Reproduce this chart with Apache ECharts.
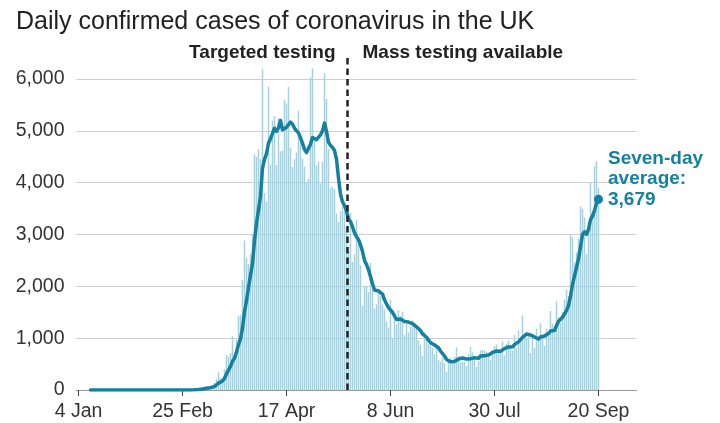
<!DOCTYPE html>
<html>
<head>
<meta charset="utf-8">
<title>Daily confirmed cases of coronavirus in the UK</title>
<script src="https://cdn.jsdelivr.net/npm/echarts@6/dist/echarts.min.js"></script>
<style>
  html, body { margin: 0; padding: 0; background: #fff; }
  #chart { width: 720px; height: 423px; }
</style>
</head>
<body>
<div id="chart"></div>
<script>
// Days are counted from 4 Jan 2020 (day 0).
const tickDays = [0, 52, 104, 156, 208, 260];
const tickLabels = ['4 Jan', '25 Feb', '17 Apr', '8 Jun', '30 Jul', '20 Sep'];
const yTickValues = [0, 1000, 2000, 3000, 4000, 5000, 6000];

// Daily confirmed cases, 1 Mar - 20 Sep
const casesStartDay = 57; // 1 Mar
const casesMar = [12, 5, 11, 34, 30, 48, 43, 67, 48, 52, 83, 134, 208, 342, 232, 171, 407, 676, 643, 714, 1035, 665, 967, 1427, 1452, 2129, 2885, 2546, 2433, 2619, 3009];
const casesApr = [4550, 4500, 4650, 4450, 6200, 3802, 3634, 5850, 4344, 5195, 5288, 4342, 5252, 4603, 4617, 5599, 5525, 5850, 4676, 4301, 4451, 4583, 5386, 4913, 4463, 4309, 3996, 4076, 6032, 6201];
const casesMay = [4806, 4339, 4406, 3985, 4406, 6111, 5614, 4649, 3896, 3923, 3877, 3403, 3242, 3446, 3560, 3451, 3142, 2684, 3412, 2472, 2615, 3287, 2959, 2409, 1625, 2004, 2013, 1887, 2450, 1936, 1570];
const casesJun = [1653, 1871, 1805, 1650, 1557, 1326, 1205, 1741, 1003, 1387, 1266, 1541, 1425, 1514, 1056, 1279, 1115, 1218, 1346, 1295, 1221, 958, 874, 653, 1118, 1006, 890, 901, 815, 689];
const casesJul = [829, 576, 544, 624, 516, 352, 581, 630, 512, 642, 820, 650, 530, 538, 538, 463, 687, 827, 726, 580, 445, 560, 769, 768, 767, 742, 685, 581, 763, 846, 880];
const casesAug = [743, 744, 938, 670, 892, 950, 871, 758, 1062, 816, 1148, 1009, 1441, 1062, 1012, 1040, 713, 1089, 812, 1182, 1033, 1288, 1041, 853, 1184, 1048, 1522, 1276, 1108, 1715, 1406];
const casesSep = [1295, 1508, 1735, 1940, 1813, 2988, 2948, 2460, 2659, 2919, 3539, 3497, 3330, 2621, 3105, 3991, 3395, 4322, 4422, 3899];

// Seven-day average, 10 Jan - 20 Sep
const averageStartDay = 6; // 10 Jan
const avgJanFeb = [0, 0, 0, 0, 0, 0, 0, 0, 0, 0, 0, 0, 0, 0, 0, 0, 0, 0, 0, 0, 0, 0,
  0, 0, 0, 0, 0, 0, 0, 0, 0, 1, 1, 1, 1, 1, 1, 1, 0, 0, 0, 0, 0, 0, 0, 1, 1, 1, 1, 2, 2];
const avgMar = [3, 4, 5, 10, 14, 20, 26, 34, 40, 46, 53, 68, 91, 133, 157, 175, 225, 310, 383, 455, 554, 616, 730, 875, 986, 1198, 1509, 1724, 1977, 2213, 2439];
const avgApr = [2880, 3220, 3470, 3740, 4280, 4450, 4560, 4760, 4850, 4950, 5050, 4990, 5060, 5200, 5020, 5040, 5070, 5120, 5170, 5130, 5050, 5000, 4960, 4870, 4760, 4640, 4580, 4560, 4740, 4870];
const avgMay = [4860, 4830, 4860, 4920, 5000, 5150, 4990, 4780, 4720, 4680, 4620, 4450, 4090, 3780, 3630, 3560, 3450, 3300, 3250, 3150, 3030, 2960, 2900, 2800, 2670, 2500, 2420, 2320, 2190, 2050, 1930];
const avgJun = [1930, 1910, 1880, 1850, 1740, 1660, 1590, 1590, 1500, 1430, 1360, 1350, 1370, 1400, 1320, 1350, 1310, 1310, 1280, 1260, 1220, 1205, 1147, 1081, 1066, 1018, 960, 914, 894, 867];
const avgJul = [893, 815, 749, 711, 656, 590, 575, 546, 537, 551, 579, 598, 624, 617, 604, 597, 604, 605, 616, 623, 609, 613, 656, 668, 659, 662, 677, 696, 725, 736, 752];
const avgAug = [749, 749, 785, 798, 816, 831, 830, 832, 877, 860, 928, 945, 1015, 1042, 1079, 1075, 1061, 1052, 1024, 987, 983, 1022, 1023, 1043, 1056, 1090, 1138, 1173, 1147, 1244, 1323];
const avgSep = [1339, 1404, 1435, 1530, 1630, 1812, 2032, 2199, 2363, 2532, 2761, 3001, 3050, 3004, 3096, 3286, 3354, 3466, 3598, 3679];

// Mass testing became available from 18 May (day 135)
const massTestingDay = 134.5;

const FONT = "'Liberation Sans', Arial, Helvetica, sans-serif";
const TEAL = '#15809f';
const BAR = '#a8d1dd';
const INK = '#222222';

const dailyCases = [].concat(casesMar, casesApr, casesMay, casesJun, casesJul, casesAug, casesSep);
const sevenDayAverage = [].concat(avgJanFeb, avgMar, avgApr, avgMay, avgJun, avgJul, avgAug, avgSep);

const barData = dailyCases.map((v, i) => [casesStartDay + i, v]);
const lineData = sevenDayAverage.map((v, i) => [averageStartDay + i, v]);
const lastPoint = lineData[lineData.length - 1];

const chart = echarts.init(document.getElementById('chart'), null, { renderer: 'canvas' });

chart.setOption({
  animation: false,
  backgroundColor: '#fff',
  textStyle: { fontFamily: FONT },
  title: {
    text: 'Daily confirmed cases of coronavirus in the UK',
    left: 16,
    top: 10,
    padding: 0,
    textStyle: { fontFamily: FONT, fontSize: 25, fontWeight: 'normal', color: INK }
  },
  // half-pixel offset keeps the thin daily bars crisp
  grid: { left: 76.5, right: 83.5, top: 79, bottom: 33, containLabel: false },
  xAxis: {
    type: 'value',
    min: -1,
    max: 279,
    splitLine: { show: false },
    axisLine: { show: true, lineStyle: { color: '#9a9a9a', width: 1 } },
    axisTick: {
      show: true,
      customValues: tickDays,
      length: 6,
      lineStyle: { color: '#444', width: 1 }
    },
    axisLabel: {
      customValues: tickDays,
      margin: 12,
      fontFamily: FONT,
      fontSize: 19.5,
      color: '#333',
      formatter: (v) => {
        const k = tickDays.indexOf(v);
        return k >= 0 ? tickLabels[k] : '';
      }
    }
  },
  yAxis: {
    type: 'value',
    min: 0,
    max: 6000,
    interval: 1000,
    axisLine: { show: false },
    axisTick: { show: false },
    splitLine: { show: true, lineStyle: { color: '#cfcfcf', width: 1 } },
    axisLabel: {
      margin: 12,
      fontFamily: FONT,
      fontSize: 19.5,
      color: '#333',
      formatter: (v) => yTickValues.indexOf(v) >= 0 ? v.toLocaleString('en-GB') : ''
    }
  },
  series: [
    {
      name: 'Daily cases',
      type: 'bar',
      data: barData,
      barWidth: 1.5,
      clip: false,
      itemStyle: { color: BAR },
      silent: true,
      z: 1
    },
    {
      name: 'Seven-day average',
      type: 'line',
      data: lineData,
      showSymbol: false,
      symbol: 'none',
      lineStyle: { color: TEAL, width: 3.5, cap: 'round', join: 'round' },
      silent: true,
      z: 3
    },
    {
      name: 'Latest average',
      type: 'scatter',
      data: [lastPoint],
      symbol: 'circle',
      symbolSize: 9,
      itemStyle: { color: TEAL, opacity: 1 },
      silent: true,
      z: 4,
      label: {
        show: true,
        position: 'right',
        distance: 5,
        offset: [0, -20.5],
        align: 'left',
        fontFamily: FONT,
        fontSize: 19,
        fontWeight: 'bold',
        lineHeight: 20.5,
        color: TEAL,
        opacity: 1,
        formatter: (p) => 'Seven-day\naverage:\n' + p.value[1].toLocaleString('en-GB')
      }
    }
  ]
});

// Dashed divider between the two testing regimes, extending above the plot
const xDivider = chart.convertToPixel({ xAxisIndex: 0 }, massTestingDay);
const yBase = chart.convertToPixel({ yAxisIndex: 0 }, 0);
const yTop = chart.convertToPixel({ yAxisIndex: 0 }, 6000) - 21;
const headY = yTop - 5;

chart.setOption({
  graphic: [
    {
      type: 'line',
      silent: true,
      z: 10,
      shape: { x1: xDivider, y1: yTop, x2: xDivider, y2: yBase },
      style: { stroke: INK, lineWidth: 2.5, lineDash: [6.5, 4] }
    },
    {
      type: 'text',
      silent: true,
      z: 10,
      x: xDivider - 12,
      y: headY,
      style: {
        text: 'Targeted testing',
        fill: INK,
        font: 'bold 19px ' + FONT,
        align: 'right',
        verticalAlign: 'middle'
      }
    },
    {
      type: 'text',
      silent: true,
      z: 10,
      x: xDivider + 15,
      y: headY,
      style: {
        text: 'Mass testing available',
        fill: INK,
        font: 'bold 19px ' + FONT,
        align: 'left',
        verticalAlign: 'middle'
      }
    }
  ]
});
</script>
</body>
</html>
